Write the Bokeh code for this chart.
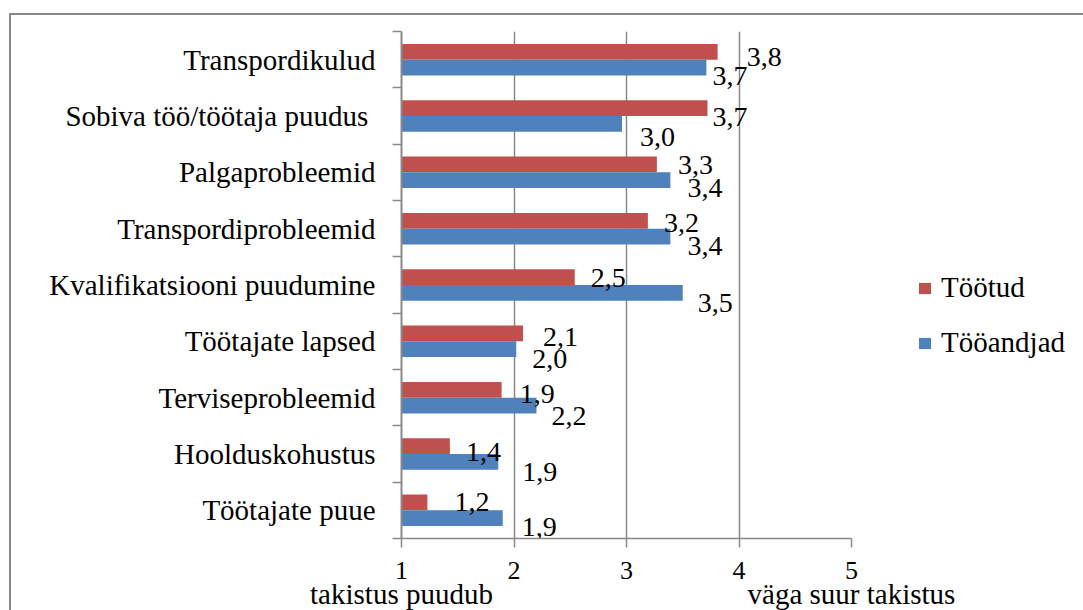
from bokeh.plotting import figure
from bokeh.models import (ColumnDataSource, Range1d, FixedTicker, LinearAxis,
                          Legend, LegendItem)
from bokeh.core.properties import value
from bokeh.embed import file_html
from bokeh.resources import INLINE

# ---- data -------------------------------------------------------------
categories = ["Transpordikulud", "Sobiva töö/töötaja puudus ", "Palgaprobleemid",
              "Transpordiprobleemid", "Kvalifikatsiooni puudumine", "Töötajate lapsed",
              "Terviseprobleemid", "Hoolduskohustus", "Töötajate puue"]
tootud = [3.81, 3.72, 3.27, 3.19, 2.54, 2.08, 1.89, 1.43, 1.23]
tooandjad = [3.71, 2.96, 3.39, 3.39, 3.50, 2.02, 2.20, 1.86, 1.90]
series_names = ["Töötud", "Tööandjad"]
x_ticks = [1, 2, 3, 4, 5]
x_end_labels = {1: "takistus puudub", 5: "väga suur takistus"}

# ---- label nudges (screen px, style only) -------------------------------
red_dx = [29, 5, 21, 16, 16, 20, 18, 16, 27]
red_dy = [5, 9, 1, 2, 1, 4, 4, 6, 0]
blue_dx = [6, 18, 17, 17, 15, 16, 15, 24, 19]
blue_dy = [8, 13, 8, 9, 10, 10, 10, 10, 9]

RED = "#C0504D"
BLUE = "#4F81BD"
GRAY = "#898989"
FONT = "Liberation Serif"

n = len(categories)
idx = list(range(n))
fmt = lambda v: f"{v:.1f}".replace(".", ",")

red_src = ColumnDataSource(dict(y=[i + 0.5 - 0.14 for i in idx], right=tootud,
                                lab=[fmt(v) for v in tootud], dx=red_dx, dy=red_dy))
blue_src = ColumnDataSource(dict(y=[i + 0.5 + 0.14 for i in idx], right=tooandjad,
                                 lab=[fmt(v) for v in tooandjad], dx=blue_dx, dy=blue_dy))

p = figure(frame_width=450, frame_height=507, output_backend="svg", toolbar_location=None,
           x_range=Range1d(1, 5), y_range=Range1d(n, 0),
           min_border_left=390, min_border_right=205,
           min_border_top=16, min_border_bottom=60)
p.margin = (13, 0, -15, 9)
p.styles = {"border-left": f"2px solid {GRAY}", "border-top": f"2px solid {GRAY}"}
p.outline_line_color = None
p.background_fill_color = "white"
p.border_fill_color = "white"

r_red = p.hbar(y="y", left=1, right="right", height=0.28, source=red_src,
               fill_color=RED, line_color=None)
r_blue = p.hbar(y="y", left=1, right="right", height=0.28, source=blue_src,
                fill_color=BLUE, line_color=None)

for src in (red_src, blue_src):
    p.text(x="right", y="y", text="lab", source=src, x_offset="dx", y_offset="dy",
           text_font=value(FONT), text_font_size="28px", text_color="black",
           text_align="left", text_baseline="alphabetic")

# grid
p.ygrid.visible = False
p.xgrid.ticker = FixedTicker(ticks=[2, 3, 4, 5])
p.xgrid.grid_line_color = GRAY
p.xgrid.grid_line_width = 1.5

# y axis
yax = p.yaxis[0]
yax.ticker = FixedTicker(ticks=[i + 0.5 for i in idx], minor_ticks=list(range(n + 1)))
yax.major_label_overrides = {i + 0.5: c for i, c in zip(idx, categories)}
yax.major_tick_line_color = None
yax.major_tick_out = 0
yax.major_tick_in = 0
yax.minor_tick_line_color = GRAY
yax.minor_tick_line_width = 1.5
yax.minor_tick_out = 9
yax.minor_tick_in = 0
yax.axis_line_color = GRAY
yax.axis_line_width = 2
yax.major_label_standoff = 17
yax.major_label_text_font = FONT
yax.major_label_text_font_size = "29px"
yax.major_label_text_color = "black"

# x axis
xax = p.xaxis[0]
xax.ticker = FixedTicker(ticks=x_ticks, minor_ticks=[])
xax.axis_line_color = GRAY
xax.axis_line_width = 1.5
xax.major_tick_line_color = GRAY
xax.major_tick_line_width = 1.5
xax.major_tick_out = 9
xax.major_tick_in = 0
xax.major_label_standoff = 14
xax.major_label_text_font = FONT
xax.major_label_text_font_size = "26px"
xax.major_label_text_color = "black"

xax2 = LinearAxis(ticker=FixedTicker(ticks=list(x_end_labels.keys()), minor_ticks=[]),
                  major_label_overrides=x_end_labels)
xax2.axis_line_color = None
xax2.major_tick_line_color = None
xax2.minor_tick_line_color = None
xax2.major_tick_out = 0
xax2.major_tick_in = 0
xax2.major_label_standoff = -4
xax2.major_label_text_font = FONT
xax2.major_label_text_font_size = "29px"
xax2.major_label_text_color = "black"
p.add_layout(xax2, "below")

legend = Legend(items=[LegendItem(label=series_names[0], renderers=[r_red]),
                       LegendItem(label=series_names[1], renderers=[r_blue])],
                location=(66, 179), orientation="vertical")
legend.label_text_font = FONT
legend.label_text_font_size = "29px"
legend.label_text_color = "black"
legend.glyph_width = 15
legend.glyph_height = 14
legend.label_standoff = 9
legend.spacing = 22
legend.padding = 0
legend.margin = 0
legend.border_line_color = None
legend.background_fill_alpha = 0
p.add_layout(legend, "right")

open("out.html", "w").write(file_html(p, INLINE))
